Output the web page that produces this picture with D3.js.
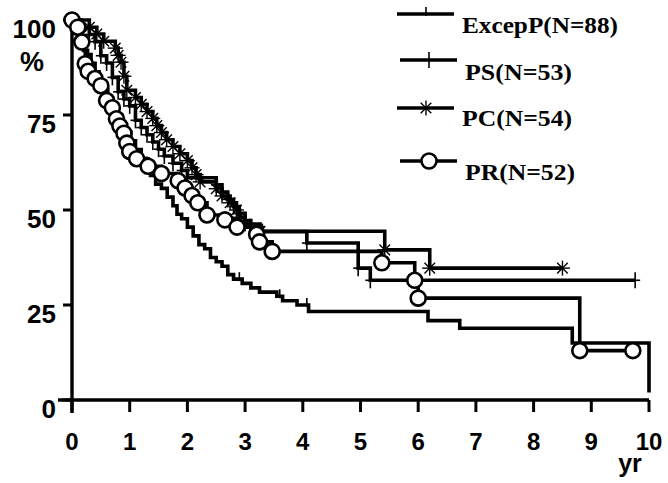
<!DOCTYPE html>
<html>
<head>
<meta charset="utf-8">
<script src="https://cdn.jsdelivr.net/npm/d3@7"></script>
<style>
body { margin: 0; background: #fff; }
.tick-label { font-family: 'Liberation Sans', Arial, sans-serif; font-weight: bold; fill: #000; }
.legend-label { font-family: 'Liberation Serif', 'Times New Roman', serif; font-weight: bold; fill: #000; }
</style>
</head>
<body>
<script>
//hardcoded parameters
var svg_width = 668;
var svg_height = 483;
var plot_left = 72, plot_right = 649;
var plot_bottom = 400, plot_top = 20;

//data (years, survival %), each value holds from that time onward
var x_ticks = [0, 1, 2, 3, 4, 5, 6, 7, 8, 9, 10];
var y_ticks = [0, 25, 50, 75, 100];
var series_names = ['ExcepP(N=88)', 'PS(N=53)', 'PC(N=54)', 'PR(N=52)'];

var excepP = [[0,100],[0.05,98.9],[0.1,96.6],[0.15,94.3],[0.2,92],[0.27,90.9],[0.33,88.6],[0.4,86.4],
    [0.47,84.1],[0.54,81.8],[0.62,79.5],[0.7,77.3],[0.78,75],[0.86,72.7],[0.94,70.5],[1.02,68.2],
    [1.1,65.9],[1.2,63.6],[1.28,61.4],[1.36,59.1],[1.45,56.8],[1.55,55.7],[1.65,53.4],[1.75,51.1],
    [1.82,48.9],[1.9,47.7],[2.0,45.5],[2.1,43.2],[2.2,40.9],[2.3,39.8],[2.4,37.5],[2.5,36.4],
    [2.6,35.2],[2.7,33],[2.8,31.8],[2.95,30.7],[3.1,29.5],[3.25,28.4],[3.55,27.3],[3.65,26.1],
    [3.9,25],[4.1,23.3],[6.17,20.9],[6.72,18.9],[8.67,15],[10,2]];
var excepP_censor = [2.9, 3.6, 4.07];

var ps = [[0,100],[0.15,98.1],[0.3,96.2],[0.4,94.3],[0.5,90.6],[0.6,88.7],[0.7,84.9],[0.8,81.1],
    [0.9,79.2],[1.0,77.4],[1.1,73.6],[1.2,71.7],[1.3,69.8],[1.4,67.9],[1.5,66],[1.6,64.2],
    [1.75,62.3],[1.9,60.4],[2.0,58.5],[2.5,56.6],[2.6,54.7],[2.7,52.8],[2.8,50.9],[2.9,49.1],
    [3.0,47.2],[3.1,45.3],[3.3,44.3],[4.07,41.3],[4.96,34.7],[5.17,31.5],[9.76,31.5]];

var pc = [[0,100],[0.3,98.1],[0.43,96.3],[0.55,94.4],[0.75,92.6],[0.8,90.7],[0.85,88.9],[0.9,85.2],
    [0.95,81.5],[1.1,79.6],[1.2,77.8],[1.3,75.9],[1.4,74.1],[1.47,72.2],[1.55,70.4],[1.64,68.5],
    [1.75,66.7],[1.87,64.8],[2.0,63],[2.08,61.1],[2.15,59.3],[2.22,57.4],[2.5,55.6],[2.6,53.7],
    [2.74,51.9],[2.85,50],[2.9,48.1],[3.0,46.3],[3.26,44.4],[5.42,39.5],[6.2,34.7],[8.5,34.7]];

var pr = [[0,100],[0.1,98.1],[0.17,94.2],[0.23,88.5],[0.28,86.5],[0.4,84.6],[0.5,82.7],[0.6,78.8],
    [0.7,76.9],[0.77,74],[0.83,72.1],[0.9,70.2],[0.95,67.6],[1.0,65.4],[1.12,63.5],[1.32,61.5],
    [1.55,59.6],[1.84,57.7],[1.96,55.8],[2.08,53.8],[2.18,51.9],[2.34,48.7],[2.65,47.4],[2.86,45.5],
    [3.2,43.6],[3.25,41.6],[3.47,39.1],[5.37,36.1],[5.94,31.5],[6.0,26.8],[8.8,13],[9.72,13]];

//svg
var svg = d3.select('body').append('svg')
    .attr('width', svg_width)
    .attr('height', svg_height);

//scales
var scale_x = d3.scaleLinear().domain([0, 10]).range([plot_left, plot_right]);
var scale_y = d3.scaleLinear().domain([0, 100]).range([plot_bottom, plot_top]);

//axes (drawn by hand to get the scanned look: thick lines, ticks below / left)
svg.append('line')
    .attr('x1', scale_x(0) - 14).attr('x2', scale_x(10))
    .attr('y1', scale_y(0)).attr('y2', scale_y(0))
    .attr('stroke', '#000').attr('stroke-width', 3.4);
svg.append('line')
    .attr('x1', scale_x(0)).attr('x2', scale_x(0))
    .attr('y1', scale_y(0) + 13).attr('y2', scale_y(100) - 4)
    .attr('stroke', '#000').attr('stroke-width', 3.4);

var xg = svg.append('g').attr('id', 'x-axis');
xg.selectAll('line').data(x_ticks).enter().append('line')
    .attr('x1', function(d) { return scale_x(d); })
    .attr('x2', function(d) { return scale_x(d); })
    .attr('y1', scale_y(0)).attr('y2', scale_y(0) + 12)
    .attr('stroke', '#000').attr('stroke-width', 3);
xg.selectAll('text').data(x_ticks).enter().append('text')
    .classed('tick-label', true)
    .attr('x', function(d) { return scale_x(d); })
    .attr('y', 450)
    .attr('text-anchor', 'middle')
    .style('font-size', '24px')
    .text(function(d) { return d; });

var yg = svg.append('g').attr('id', 'y-axis');
yg.selectAll('line').data(y_ticks).enter().append('line')
    .attr('x1', scale_x(0) - 9).attr('x2', scale_x(0))
    .attr('y1', function(d) { return scale_y(d); })
    .attr('y2', function(d) { return scale_y(d); })
    .attr('stroke', '#000').attr('stroke-width', 3);
yg.selectAll('text').data(y_ticks).enter().append('text')
    .classed('tick-label', true)
    .attr('x', 56)
    .attr('y', function(d) { return scale_y(d) + 18; })
    .attr('text-anchor', 'end')
    .style('font-size', '26px')
    .text(function(d) { return d; });

svg.append('text').classed('tick-label', true)
    .attr('x', 32).attr('y', 71).attr('text-anchor', 'middle')
    .style('font-size', '27px').text('%');
svg.append('text').classed('tick-label', true)
    .attr('x', 630).attr('y', 472).attr('text-anchor', 'middle')
    .style('font-size', '25px').text('yr');

//markers
function marker(g, kind, x, y) {
    if (kind == 'tick') {
        g.append('line').attr('x1', x).attr('x2', x).attr('y1', y - 7).attr('y2', y + 2)
            .attr('stroke', '#000').attr('stroke-width', 1.6);
    } else if (kind == 'plus') {
        g.append('line').attr('x1', x).attr('x2', x).attr('y1', y - 8).attr('y2', y + 8)
            .attr('stroke', '#000').attr('stroke-width', 1.6);
        g.append('line').attr('x1', x - 5).attr('x2', x + 5).attr('y1', y).attr('y2', y)
            .attr('stroke', '#000').attr('stroke-width', 1.6);
    } else if (kind == 'star') {
        for (var a = 0; a < 4; a++) {
            var ang = a * Math.PI / 4;
            g.append('line')
                .attr('x1', x - 7.5 * Math.cos(ang)).attr('x2', x + 7.5 * Math.cos(ang))
                .attr('y1', y - 7.5 * Math.sin(ang)).attr('y2', y + 7.5 * Math.sin(ang))
                .attr('stroke', '#000').attr('stroke-width', 1.4);
        }
    } else if (kind == 'circle') {
        g.append('circle').attr('cx', x).attr('cy', y).attr('r', 7.5)
            .attr('fill', '#fff').attr('stroke', '#000').attr('stroke-width', 2.6);
    }
}

function stepAt(data, t) {
    var v = data[0][1];
    data.forEach(function(d) { if (d[0] <= t) v = d[1]; });
    return v;
}

var line = d3.line()
    .x(function(d) { return scale_x(d[0]); })
    .y(function(d) { return scale_y(d[1]); })
    .curve(d3.curveStepAfter);

var series = [
    {data: excepP, kind: 'tick',   marks: excepP_censor},
    {data: ps,     kind: 'plus',   marks: ps.slice(1).map(function(d) { return d[0]; })},
    {data: pc,     kind: 'star',   marks: pc.slice(1).map(function(d) { return d[0]; })},
    {data: pr,     kind: 'circle', marks: pr.map(function(d) { return d[0]; })}
];

var curves = svg.append('g').attr('id', 'curves');
series.forEach(function(s) {
    curves.append('path')
        .attr('d', line(s.data))
        .attr('fill', 'none')
        .attr('stroke', '#000')
        .attr('stroke-width', 3.6)
        .attr('stroke-linejoin', 'miter');
});
series.forEach(function(s) {
    var g = curves.append('g');
    s.marks.forEach(function(t) {
        marker(g, s.kind, scale_x(t), scale_y(stepAt(s.data, t)));
    });
});

//legend
var legend_rows = [
    {x: 397, y: 14,  tx: 462, ty: 33,  w: 156},
    {x: 400, y: 60,  tx: 465, ty: 80,  w: 107},
    {x: 397, y: 108, tx: 462, ty: 126, w: 110},
    {x: 400, y: 161, tx: 465, ty: 180, w: 110}
];
var key = svg.append('g').attr('id', 'key');
legend_rows.forEach(function(r, i) {
    key.append('line')
        .attr('x1', r.x).attr('x2', r.x + 57)
        .attr('y1', r.y).attr('y2', r.y)
        .attr('stroke', '#000').attr('stroke-width', 3.6);
    marker(key, series[i].kind, r.x + 29, r.y);
    key.append('text')
        .classed('legend-label', true)
        .attr('x', r.tx).attr('y', r.ty)
        .attr('textLength', r.w).attr('lengthAdjust', 'spacingAndGlyphs')
        .style('font-size', '24px')
        .text(series_names[i]);
});
</script>
</body>
</html>
